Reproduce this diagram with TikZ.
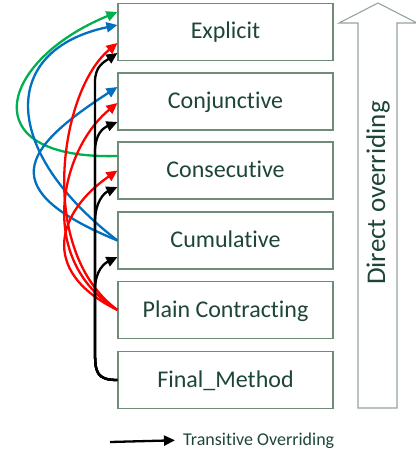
\documentclass[tikz,border=0pt]{standalone}
\usepackage{fontspec}
\setmainfont{Carlito}[Ligatures=NoCommon]
\usetikzlibrary{arrows.meta,calc}
\definecolor{boxline}{RGB}{110,140,120}
\definecolor{arrline}{RGB}{150,165,155}
\definecolor{txt}{RGB}{30,70,55}
\definecolor{ggreen}{RGB}{0,176,80}
\definecolor{bblue}{RGB}{0,112,192}
\definecolor{rred}{RGB}{255,0,0}
\begin{document}
\begin{tikzpicture}[x=1pt,y=-1pt,
  box/.style={draw=boxline, line width=1.1pt, minimum width=215pt, minimum height=57pt,
    inner sep=0pt, text=txt, font=\fontsize{24}{27}\selectfont, text height=18pt, text depth=4pt},
  conn/.style={line width=2.3pt, -{Triangle[length=11pt,width=10pt]}},
]
\useasboundingbox (0,0) rectangle (415,454);
\fill[white] (0,0) rectangle (415,454);

% big arrow
\draw[arrline, line width=1.1pt, fill=white] (358,408) -- (358,23) -- (339,23) -- (378,3) -- (417,23) -- (397,23) -- (397,408) -- cycle;
\node[rotate=90, text=txt, font=\fontsize{27}{30}\selectfont, inner sep=0pt] (dir) at (378,193) {Direct overriding};

% boxes
\node[box] (ex) at (225.5,32) {Explicit};
\node[box] (cj) at (225.5,101.5) {Conjunctive};
\node[box] (cs) at (225.5,170.5) {Consecutive};
\node[box] (cu) at (225.5,240.5) {Cumulative};
\node[box] (pc) at (225.5,310) {Plain Contracting};
\node[box] (fm) at (225.5,380) {Final\_Method};

% green
\draw[conn, ggreen] ([yshift=14.5pt]cs.west) .. controls (-30,160) and (0,60) .. ([yshift=20pt]ex.west);
% blue
\draw[conn, bblue] (cu.west) .. controls (0,150) and (0,50) .. ([yshift=7pt]ex.west);
\draw[conn, bblue] (cu.west) .. controls (-5,190) and (20,150) .. ([yshift=14.5pt]cj.west);
% red
\draw[conn, rred] (pc.west) .. controls (36,250) and (60,90) .. ([yshift=-11pt]ex.west);
\draw[conn, rred] (pc.west) .. controls (36,260) and (60,150) .. ([yshift=-1.5pt]cj.west);
\draw[conn, rred] (pc.west) .. controls (36,270) and (60,210) .. (cs.west);
% black
\draw[conn, black] (fm.west) .. controls (96,380) and (95,372) .. (95,350) -- (95,82) .. controls (95,66) and (104,62) .. ([yshift=-21pt]ex.west);
\draw[conn, black] (fm.west) .. controls (96,380) and (95,372) .. (95,350) -- (95,152) .. controls (95,134) and (103,128) .. ([yshift=-20.5pt]cj.west);
\draw[conn, black] (fm.west) .. controls (96,380) and (95,372) .. (95,350) -- (95,222) .. controls (95,202) and (104,193) .. ([yshift=-16.5pt]cs.west);
\draw[conn, black] (fm.west) .. controls (96,380) and (95,372) .. (95,350) -- (95,290) .. controls (95,270) and (105,263) .. ([yshift=-16.5pt]cu.west);

% legend
\coordinate (l1) at (110,442);
\node[anchor=base west, inner sep=0pt, text=txt, font=\fontsize{18}{21}\selectfont] (leg) at (183,445) {Transitive Overriding};
\draw[conn, black] (l1) -- ([xshift=-8pt]leg.west);
\end{tikzpicture}
\end{document}
